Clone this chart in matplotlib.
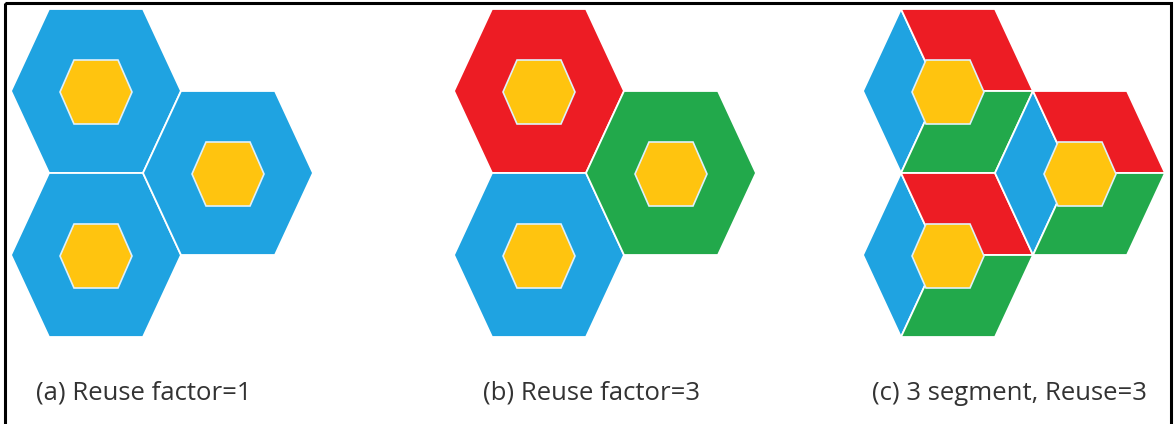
import matplotlib
matplotlib.use("Agg")
import matplotlib.pyplot as plt
from matplotlib.patches import Polygon, Rectangle

# ---- data ----
panel_labels = ["(a) Reuse factor=1", "(b) Reuse factor=3", "(c) 3 segment, Reuse=3"]
panel_origin_x = [96, 539, 948]          # centre x of the top-left cell of each panel (px)
panel_origin_y = 91
label_x = [36, 483, 872]
label_baseline_y = 400
# cell lattice: (column, row) -> top-left, bottom-left, right
cell_cols = [0, 0, 1]
cell_rows = [0, 2, 1]
# colours of each cell (panels a, b)
cell_colors_a = ["blue", "blue", "blue"]
cell_colors_b = ["red", "blue", "green"]
# segment colours for panel c (left rhombus, top-right rhombus, bottom rhombus)
segment_colors_c = ["blue", "red", "green"]

palette = {"blue": "#1FA3E1", "red": "#ED1C24", "green": "#22A94B", "yellow": "#FFC40F"}

# hexagon shape (px)
W, A, H = 85, 47, 82          # outer: half-width, half top edge, half-height
Wi, Ai, Hi = 36, 22, 32       # inner yellow hexagon

fig = plt.figure(figsize=(11.74, 4.24), dpi=100)
ax = fig.add_axes([0, 0, 1, 1])
ax.set_xlim(0, 1174)
ax.set_ylim(424, 0)
ax.axis("off")

def hexpts(cx, cy, w, a, h):
    return [(cx - w, cy), (cx - a, cy - h), (cx + a, cy - h),
            (cx + w, cy), (cx + a, cy + h), (cx - a, cy + h)]

def centre(p, i):
    cx = panel_origin_x[p] + cell_cols[i] * (W + A)
    cy = panel_origin_y + cell_rows[i] * H
    return cx, cy

edge_kw = dict(edgecolor="white", linewidth=1.3, joinstyle="miter")

for p in range(3):
    for i in range(len(cell_cols)):
        cx, cy = centre(p, i)
        if p < 2:
            col = (cell_colors_a if p == 0 else cell_colors_b)[i]
            ax.add_patch(Polygon(hexpts(cx, cy, W, A, H), closed=True,
                                 facecolor=palette[col], **edge_kw))
        else:
            L, TL, TR, R, BR, BL = hexpts(cx, cy, W, A, H)
            C = (cx + W - 2 * A, cy)
            rhombi = [[L, TL, C, BL], [TL, TR, R, C], [C, R, BR, BL]]
            for poly, col in zip(rhombi, segment_colors_c):
                ax.add_patch(Polygon(poly, closed=True, facecolor=palette[col], **edge_kw))
        ax.add_patch(Polygon(hexpts(cx, cy + 1, Wi, Ai, Hi), closed=True,
                             facecolor=palette["yellow"], edgecolor="#dff0fb",
                             linewidth=1.2, zorder=3))
    ax.text(label_x[p], label_baseline_y, panel_labels[p], fontsize=18.5,
            family="Open Sans", color="#333333", ha="left", va="baseline")

ax.add_patch(Rectangle((5, 3), 1166, 430, fill=False, edgecolor="black",
                       linewidth=2.2, clip_on=False))

fig.savefig("out.png", dpi=100)
